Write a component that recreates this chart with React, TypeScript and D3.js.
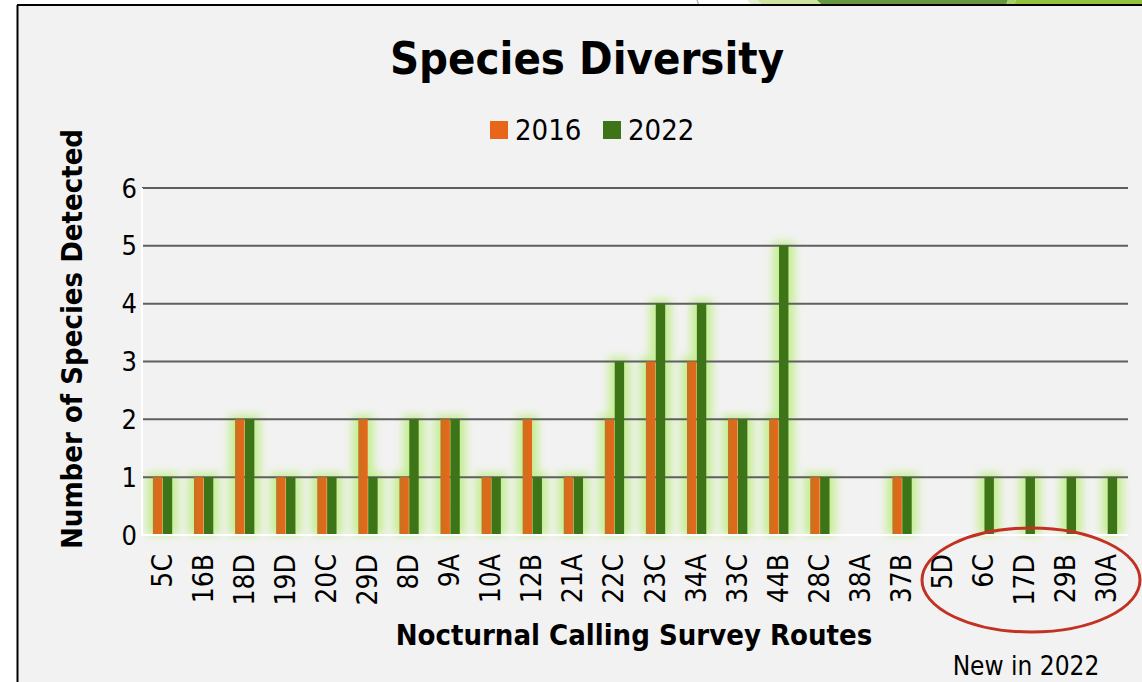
import React from "react";
import * as d3 from "d3";

const routes = ["5C","16B","18D","19D","20C","29D","8D","9A","10A","12B","21A","22C","23C","34A","33C","44B","28C","38A","37B","5D","6C","17D","29B","30A"];
const seriesNames = ["2016", "2022"];
const values2016 = [1,1,2,1,1,2,1,2,1,2,1,2,3,3,2,2,1,0,1,0,0,0,0,0];
const values2022 = [1,1,2,1,1,1,2,2,1,1,1,3,4,4,2,5,1,0,1,0,1,1,1,1];
const yTicks = [0,1,2,3,4,5,6];

const W = 1142, H = 682;
const plot = { left: 142, right: 1128, top: 188, bottom: 535 };
const FONT = "'DejaVu Sans Condensed', 'DejaVu Sans', sans-serif";
const ORANGE = "#e8661a";
const GREEN = "#3d7418";

export default function App() {
  const x = d3.scaleBand<string>().domain(routes).range([plot.left, plot.right]);
  const step = x.bandwidth();
  const inner = d3.scaleBand<string>().domain(seriesNames)
    .range([step * 0.265, step * 0.735]).paddingInner(0.05);
  const y = d3.scaleLinear().domain([0, 6]).range([plot.bottom, plot.top]);

  const bars = routes.flatMap((r, i) => [
    { key: r + "-16", s: "2016", v: values2016[i], x: (x(r) ?? 0) + (inner("2016") ?? 0) },
    { key: r + "-22", s: "2022", v: values2022[i], x: (x(r) ?? 0) + (inner("2022") ?? 0) },
  ]);
  const bw = inner.bandwidth();

  return (
    <svg width={W} height={H} style={{ position: "absolute", left: 0, top: 0 }}>
      <defs>
        <filter id="glow" x="-100%" y="-50%" width="300%" height="200%">
          <feGaussianBlur stdDeviation="4" />
        </filter>
        <linearGradient id="orangeGrad" x1="0" x2="1" y1="0" y2="0">
          <stop offset="0" stopColor="#c6731f" />
          <stop offset="0.45" stopColor="#d86c1c" />
          <stop offset="1" stopColor="#ea6519" />
        </linearGradient>
      </defs>

      {/* page strip and slide decoration */}
      <rect x={0} y={0} width={W} height={H} fill="#ffffff" />
      <path d="M697,0 Q698,3 699,5" stroke="#b0b0b0" strokeWidth={1.2} fill="none" />
      <polygon points="747,0 760,0 760,5 752,5" fill="#e6efd6" />
      <polygon points="758,0 818,0 821,5 762,5" fill="#cfe4a0" />
      <polygon points="817,0 1008,0 1006,5 822,5" fill="#67983f" />
      <polygon points="1008,0 1016,0 1014,5 1006,5" fill="#a6cf6c" />
      <polygon points="1016,0 1142,0 1142,5 1014,5" fill="#93c23b" />

      {/* chart panel */}
      <rect x={17} y={5} width={W - 17} height={H - 5} fill="#f2f2f2" />
      <line x1={17} y1={5} x2={W} y2={5} stroke="#000" strokeWidth={2} />
      <line x1={17.5} y1={5} x2={17.5} y2={H} stroke="#000" strokeWidth={2} />

      <text x={587} y={74} textAnchor="middle" fontFamily={FONT} fontWeight="bold" fontSize={45} fill="#000">
        Species Diversity
      </text>

      {/* legend */}
      <rect x={490} y={121} width={18} height={18} fill={ORANGE} />
      <text x={515} y={140} fontFamily={FONT} fontSize={29} fill="#000">2016</text>
      <rect x={603} y={121} width={18} height={18} fill={GREEN} />
      <text x={628} y={140} fontFamily={FONT} fontSize={29} fill="#000">2022</text>

      {/* glow behind bars */}
      <g filter="url(#glow)">
        {bars.filter(b => b.v > 0).map(b => (
          <rect key={"g" + b.key} x={b.x - 6} y={y(b.v) - 4} width={bw + 12} height={plot.bottom - y(b.v) + 4} fill="#c4ee92" />
        ))}
      </g>

      {/* gridlines */}
      {yTicks.filter(t => t > 0).map(t => (
        <line key={"grid" + t} x1={plot.left} x2={plot.right} y1={y(t)} y2={y(t)} stroke="#5f5f5f" strokeWidth={2} />
      ))}

      {/* bars */}
      {bars.filter(b => b.v > 0).map(b => (
        <rect key={b.key} x={b.x} y={y(b.v)} width={bw} height={plot.bottom - y(b.v)}
          fill={b.s === "2016" ? "url(#orangeGrad)" : GREEN} />
      ))}

      {/* axis lines */}
      <line x1={plot.left} x2={plot.left} y1={plot.top} y2={plot.bottom + 1} stroke="#ffffff" strokeWidth={2} />
      <line x1={plot.left} x2={plot.right} y1={plot.bottom} y2={plot.bottom} stroke="#ffffff" strokeWidth={2} />

      {/* y tick labels */}
      {yTicks.map(t => (
        <text key={"yt" + t} x={137} y={y(t)} textAnchor="end" dominantBaseline="central"
          fontFamily={FONT} fontSize={27} fill="#000">{t}</text>
      ))}

      {/* x tick labels */}
      {routes.map(r => {
        const cx = (x(r) ?? 0) + step / 2;
        return (
          <text key={"xt" + r} transform={`translate(${cx + 9},554) rotate(-90)`} textAnchor="end"
            fontFamily={FONT} fontSize={28} fill="#000">{r}</text>
        );
      })}

      <text transform="translate(82,339) rotate(-90)" textAnchor="middle" fontFamily={FONT} fontWeight="bold" fontSize={29} fill="#000">
        Number of Species Detected
      </text>
      <text x={634} y={645} textAnchor="middle" fontFamily={FONT} fontWeight="bold" fontSize={29} fill="#000">
        Nocturnal Calling Survey Routes
      </text>

      <ellipse cx={1031} cy={580} rx={109} ry={52} fill="none" stroke="#c23222" strokeWidth={3} />
      <text x={1026} y={675} textAnchor="middle" fontFamily={FONT} fontSize={26} fill="#000">New in 2022</text>
    </svg>
  );
}
